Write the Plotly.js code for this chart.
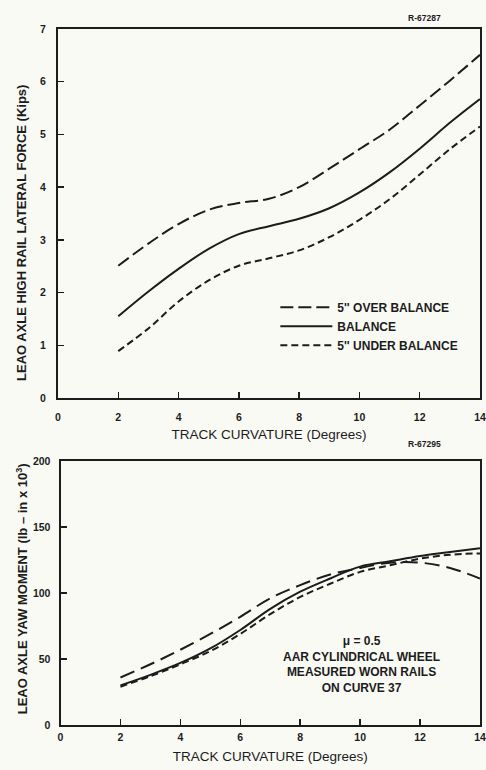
<!DOCTYPE html>
<html>
<head>
<meta charset="utf-8">
<script src="https://cdn.plot.ly/plotly-3.0.1.min.js"></script>
<style>
  html, body { margin: 0; padding: 0; background: #fafaf5; }
  #chart { width: 486px; height: 770px; }
</style>
</head>
<body>
<div id="chart"></div>
<script>
// Track curvature (degrees) shared by both panels
const curvature = [2, 3, 4, 5, 6, 7, 8, 9, 10, 11, 12, 13, 14];

// Lead axle high rail lateral force (kips)
const forceOver    = [2.51, 2.93, 3.30, 3.57, 3.70, 3.78, 4.00, 4.35, 4.72, 5.09, 5.55, 6.02, 6.51];
const forceBalance = [1.55, 2.02, 2.45, 2.83, 3.11, 3.26, 3.40, 3.60, 3.90, 4.28, 4.73, 5.22, 5.67];
const forceUnder   = [0.89, 1.32, 1.83, 2.23, 2.51, 2.65, 2.80, 3.05, 3.38, 3.77, 4.24, 4.72, 5.15];

// Lead axle yaw moment (lb-in x 10^3)
const yawOver    = [36, 46, 57, 69, 82, 96, 106, 114, 119, 123, 123, 119, 111];
const yawBalance = [30, 38, 47, 58, 72, 88, 101, 111, 120, 124, 128, 131, 134];
const yawUnder   = [29, 37, 46, 56, 69, 84, 97, 107, 116, 121, 126, 129, 130];

// Series names and tick labels
const seriesNames = ["5'' OVER BALANCE", "BALANCE", "5'' UNDER BALANCE"];
const curvatureTicks = [0, 2, 4, 6, 8, 10, 12, 14];
const forceTicks = [0, 1, 2, 3, 4, 5, 6, 7];
const yawTicks = [0, 50, 100, 150, 200];

const ink = '#1c1c1c';
const font = 'Liberation Sans, Arial, sans-serif';
const dashes = ['13px,5px', 'solid', '7px,4px'];
const yawDashes = ['15px,7px', 'solid', '7px,4px'];

const forceSeries = [forceOver, forceBalance, forceUnder];
const yawSeries = [yawOver, yawBalance, yawUnder];

const traces = [];
forceSeries.forEach((ys, i) => {
  traces.push({
    x: curvature, y: ys, name: seriesNames[i],
    type: 'scatter', mode: 'lines',
    line: { color: ink, width: 2, dash: dashes[i], shape: 'spline', smoothing: 1 },
    xaxis: 'x', yaxis: 'y', showlegend: true
  });
});
yawSeries.forEach((ys, i) => {
  traces.push({
    x: curvature, y: ys, name: seriesNames[i],
    type: 'scatter', mode: 'lines',
    line: { color: ink, width: 2, dash: yawDashes[i], shape: 'spline', smoothing: 1 },
    xaxis: 'x2', yaxis: 'y2', showlegend: false
  });
});

const tickFont = { family: font, size: 10.5, color: ink, weight: 'bold' };
const axisBase = {
  showline: true, linecolor: ink, linewidth: 2, mirror: true,
  showgrid: false, zeroline: false,
  ticks: 'inside', ticklen: 6, tickwidth: 1.5, tickcolor: ink,
  tickfont: tickFont, fixedrange: true
};
const xTitleFont = { family: font, size: 13.5, color: ink };
const yTitleFont = { family: font, size: 13, color: ink, weight: 'bold' };

const layout = {
  width: 486, height: 770,
  margin: { l: 58, r: 6, t: 29, b: 45 },
  paper_bgcolor: '#fafaf5', plot_bgcolor: '#fafaf5',
  font: { family: font, color: ink },
  showlegend: true,
  legend: {
    x: 0.515, y: 0.621, xanchor: 'left', yanchor: 'top',
    bgcolor: 'rgba(0,0,0,0)', borderwidth: 0,
    font: { family: font, size: 12, color: ink, weight: 'bold' },
    itemwidth: 52, tracegroupgap: 0
  },
  xaxis: Object.assign({}, axisBase, {
    domain: [0, 1], anchor: 'y', range: [0, 14.001],
    tickvals: curvatureTicks, ticklabelstandoff: 8,
    title: { text: 'TRACK CURVATURE (Degrees)', font: xTitleFont, standoff: 8 }
  }),
  yaxis: Object.assign({}, axisBase, {
    domain: [0.4698, 1], anchor: 'x', range: [0, 7],
    tickvals: forceTicks, ticklabelstandoff: 8
  }),
  xaxis2: Object.assign({}, axisBase, {
    domain: [0.006, 1], anchor: 'y2', range: [0, 14.001],
    tickvals: curvatureTicks, ticklabelstandoff: 1,
    title: { text: 'TRACK CURVATURE (Degrees)', font: xTitleFont, standoff: 10 }
  }),
  yaxis2: Object.assign({}, axisBase, {
    domain: [0, 0.3793], anchor: 'x2', range: [0, 200],
    tickvals: yawTicks, ticklabelstandoff: 6
  }),
  annotations: [
    // rotated axis titles
    { text: 'LEAO AXLE HIGH RAIL LATERAL FORCE (Kips)', textangle: -90,
      xref: 'paper', yref: 'paper', x: -0.0853, y: 0.707, showarrow: false,
      xanchor: 'center', yanchor: 'middle', font: yTitleFont },
    { text: 'LEAO AXLE YAW MOMENT (lb – in x 10<sup>3</sup>)', textangle: -90,
      xref: 'paper', yref: 'paper', x: -0.0853, y: 0.195, showarrow: false,
      xanchor: 'center', yanchor: 'middle', font: yTitleFont },
    // figure reference numbers
    { text: 'R-67287', xref: 'paper', yref: 'paper', x: 0.912, y: 1.026, showarrow: false,
      font: { family: font, size: 8.5, color: ink, weight: 'bold' } },
    { text: 'R-67295', xref: 'paper', yref: 'paper', x: 0.912, y: 0.404, showarrow: false,
      font: { family: font, size: 8.5, color: ink, weight: 'bold' } },
    // test conditions
    { text: 'μ = 0.5<br>AAR CYLINDRICAL WHEEL<br>MEASURED WORN RAILS<br>ON CURVE 37',
      xref: 'x2', yref: 'y2', x: 10.05, y: 46, showarrow: false, align: 'center',
      font: { family: font, size: 12, color: ink, weight: 'bold' } }
  ]
};

Plotly.newPlot('chart', traces, layout, { displayModeBar: false, staticPlot: true });
</script>
</body>
</html>
